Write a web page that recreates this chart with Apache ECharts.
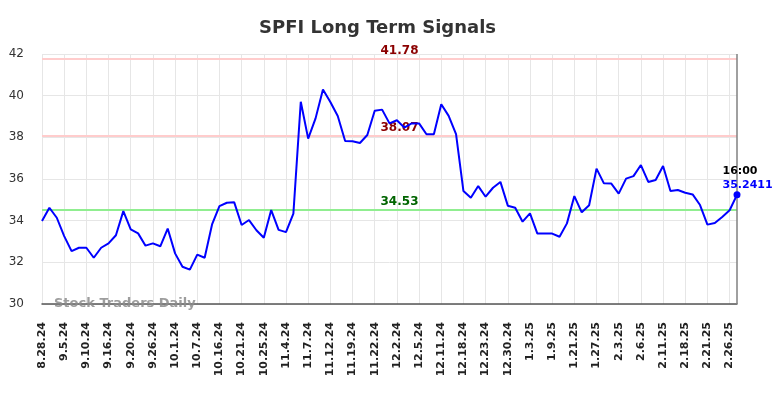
<!DOCTYPE html>
<html>
<head>
<meta charset="utf-8">
<script src="https://cdn.jsdelivr.net/npm/echarts@6/dist/echarts.min.js"></script>
<style>
  html, body { margin: 0; padding: 0; background: #fff; }
  #chart { width: 784px; height: 398px; }
</style>
</head>
<body>
<div id="chart"></div>
<script>
// x-axis tick labels, one every 3 points
const tickLabels = [
  "8.28.24", "9.5.24", "9.10.24", "9.16.24", "9.20.24", "9.26.24", "10.1.24", "10.7.24",
  "10.16.24", "10.21.24", "10.25.24", "11.4.24", "11.7.24", "11.12.24", "11.19.24", "11.22.24",
  "12.2.24", "12.5.24", "12.11.24", "12.18.24", "12.23.24", "12.30.24", "1.3.25", "1.9.25",
  "1.21.25", "1.27.25", "2.3.25", "2.6.25", "2.11.25", "2.18.25", "2.21.25", "2.26.25"
];

// closing prices
const prices = [
  33.98, 34.62, 34.14, 33.26, 32.54, 32.70, 32.70, 32.22, 32.70, 32.91,
  33.30, 34.46, 33.58, 33.39, 32.80, 32.91, 32.77, 33.62, 32.43, 31.79,
  31.65, 32.37, 32.22, 33.82, 34.70, 34.86, 34.88, 33.79, 34.03, 33.54,
  33.18, 34.51, 33.56, 33.45, 34.34, 39.71, 37.94, 38.91, 40.30, 39.70,
  39.02, 37.82, 37.81, 37.73, 38.11, 39.28, 39.33, 38.67, 38.82, 38.47,
  38.67, 38.67, 38.15, 38.15, 39.59, 39.03, 38.15, 35.42, 35.10, 35.66,
  35.15, 35.58, 35.86, 34.72, 34.62, 33.95, 34.35, 33.38, 33.38, 33.38,
  33.23, 33.87, 35.18, 34.40, 34.74, 36.50, 35.79, 35.78, 35.30, 36.02,
  36.14, 36.67, 35.86, 35.95, 36.62, 35.42, 35.47, 35.34, 35.26, 34.75,
  33.81, 33.89, 34.18, 34.50, 35.2411
];

// signal levels
const resistanceLevels = [41.78, 38.07];
const supportLevels = [34.53];
const lastTime = "16:00";

const yTicks = { min: 30, max: 42, step: 2 };

const FONT = "DejaVu Sans";
const chart = echarts.init(document.getElementById("chart"));

const lastIdx = prices.length - 1;
const seriesData = prices.map((v, i) => {
  if (i !== lastIdx) return v;
  return {
    value: v,
    symbol: "circle",
    symbolSize: 7,
    itemStyle: { color: "#0000ff" },
    label: {
      show: true,
      position: [-11, -27],
      align: "left",
      formatter: "{t|" + lastTime + "}\n{v|" + v + "}",
      rich: {
        t: { color: "#000", fontWeight: "bold", fontSize: 11, fontFamily: FONT, lineHeight: 14 },
        v: { color: "#0000ff", fontWeight: "bold", fontSize: 11, fontFamily: FONT, lineHeight: 14 }
      }
    }
  };
});

const levelLabel = (color) => ({
  show: true,
  position: "middle",
  distance: 2,
  offset: [10, 0],
  color: color,
  fontWeight: "bold",
  fontSize: 12,
  fontFamily: FONT,
  formatter: "{c}"
});

const markData = [
  ...resistanceLevels.map((y) => ({
    yAxis: y,
    lineStyle: { color: "#ffcccc", width: 2, type: "solid" },
    label: levelLabel("#8b0000")
  })),
  ...supportLevels.map((y) => ({
    yAxis: y,
    lineStyle: { color: "#90ee90", width: 2, type: "solid" },
    label: levelLabel("#006400")
  })),
  {
    xAxis: lastIdx,
    lineStyle: { color: "#808080", width: 1.5, type: "solid" },
    label: { show: false }
  }
];

chart.setOption({
  animation: false,
  backgroundColor: "#fff",
  title: {
    text: "SPFI Long Term Signals",
    left: 254,
    top: 14,
    textStyle: { fontFamily: FONT, fontSize: 18, fontWeight: "bold", color: "#333" }
  },
  grid: { left: 42, right: 47, top: 54, bottom: 94 },
  xAxis: {
    type: "category",
    boundaryGap: false,
    data: prices.map((_, i) => i),
    axisLine: { lineStyle: { color: "#555", width: 1.5 } },
    axisTick: { show: false },
    axisLabel: {
      interval: 2,
      rotate: 90,
      margin: 18,
      color: "#222",
      fontWeight: "bold",
      fontSize: 11,
      fontFamily: FONT,
      formatter: (v, i) => tickLabels[i / 3] || ""
    },
    splitLine: { show: true, interval: 2, lineStyle: { color: "#e6e6e6", width: 1 } }
  },
  yAxis: {
    type: "value",
    min: yTicks.min,
    max: yTicks.max,
    interval: yTicks.step,
    axisLine: { show: false },
    axisTick: { show: false },
    axisLabel: { margin: 18, color: "#333", fontSize: 12, fontFamily: FONT },
    splitLine: { lineStyle: { color: "#e6e6e6", width: 1 } }
  },
  graphic: [
    {
      type: "text",
      left: 54,
      top: 297,
      z: 100,
      style: {
        text: "Stock Traders Daily",
        fill: "rgba(140,140,140,0.85)",
        font: "bold 13px 'DejaVu Sans'"
      }
    }
  ],
  series: [
    {
      type: "line",
      data: seriesData,
      showSymbol: true,
      showAllSymbol: true,
      symbol: "none",
      lineStyle: { color: "#0000ff", width: 2 },
      itemStyle: { color: "#0000ff" },
      z: 5,
      markLine: {
        silent: true,
        symbol: "none",
        z: 3,
        data: markData
      }
    }
  ]
});
</script>
</body>
</html>
